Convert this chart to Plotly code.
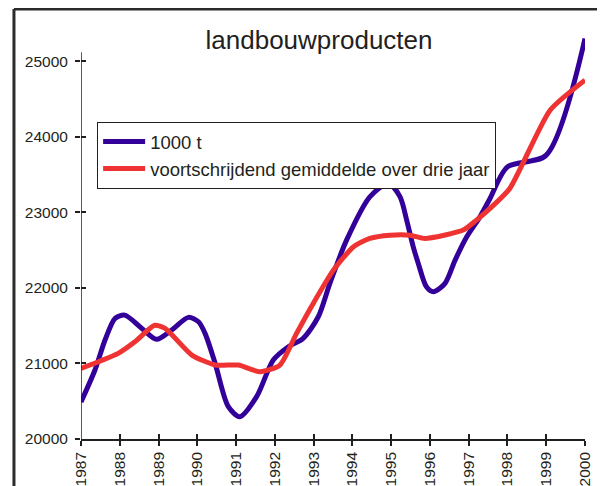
import plotly.graph_objects as go

# values
jaar_blauw = [1987.0, 1987.36, 1987.62, 1987.88, 1988.13, 1988.57, 1988.95, 1989.34, 1989.77,
              1990.03, 1990.2, 1990.46, 1990.8, 1991.1, 1991.53, 1991.96, 1992.35, 1992.73,
              1993.12, 1993.42, 1993.85, 1994.45, 1994.93, 1995.23, 1995.40, 1995.57, 1995.70,
              1995.91, 1996.09, 1996.39, 1996.65, 1996.95, 1997.29, 1997.55, 1998.0, 1999.0, 2000.0]
productie = [20490, 20913, 21310, 21597, 21640, 21464, 21319, 21442, 21610,
             21552, 21398, 21001, 20427, 20295, 20560, 21045, 21221, 21332,
             21618, 22060, 22632, 23205, 23382, 23205, 22897, 22544, 22324,
             22015, 21949, 22060, 22368, 22676, 22940, 23184, 23602, 23757, 25300]

jaar_rood = [1987.0, 1987.45, 1987.96, 1988.39, 1988.9, 1989.17, 1989.86, 1990.46, 1991.06,
             1991.62, 1992.13, 1992.56, 1992.99, 1993.51, 1994.03, 1994.45, 1994.97, 1995.49,
             1995.87, 1996.86, 1997.2, 1997.55, 1998.06, 1999.1, 2000.0]
gemiddelde = [20935, 21023, 21134, 21287, 21505, 21464, 21111, 20979, 20979,
              20890, 20979, 21398, 21795, 22235, 22544, 22655, 22698, 22698,
              22655, 22765, 22897, 23052, 23316, 24352, 24750]

jaren = list(range(1987, 2001))
jaar_labels = [str(j) for j in jaren]
y_ticks = [20000, 21000, 22000, 23000, 24000, 25000]
y_labels = [str(v) for v in y_ticks]

tekst = "#231f20"
font = "Liberation Sans, Arial, sans-serif"
x_range = [1987, 2000]
y_range = [20000, 25400]

fig = go.Figure()
fig.add_trace(go.Scatter(x=jaar_blauw, y=productie, mode="lines", name="1000 t",
                         line=dict(color="#330099", width=5, shape="spline", smoothing=0.8)))
fig.add_trace(go.Scatter(x=jaar_rood, y=gemiddelde, mode="lines",
                         name="voortschrijdend gemiddelde over drie jaar",
                         xaxis="x2", yaxis="y2",
                         line=dict(color="#ef3333", width=5, shape="spline", smoothing=0.6)))

# the page body adds 8px, so the figure is 8px smaller and shifted
fig.update_layout(
    width=597, height=478,
    margin=dict(l=73, r=20, t=23, b=47),
    paper_bgcolor="white", plot_bgcolor="white",
    font=dict(family=font, color=tekst),
    title=dict(text="landbouwproducten", x=0.521, xanchor="center", xref="container",
               y=0.933, yanchor="middle", yref="container",
               font=dict(size=26, color=tekst)),
    xaxis=dict(range=x_range, tickvals=jaren, ticktext=jaar_labels, ticks="outside",
               ticklen=5, tickwidth=1.5, tickcolor=tekst, tickangle=-90,
               tickfont=dict(size=15.5), automargin=False,
               showline=True, linecolor=tekst, linewidth=1.5, showgrid=False, zeroline=False),
    yaxis=dict(range=y_range, tickvals=y_ticks, ticktext=y_labels, ticks="outside",
               ticklen=5, tickwidth=1.5, tickcolor=tekst, tickfont=dict(size=15.5),
               ticklabelstandoff=4, automargin=False,
               showline=False, showgrid=False, zeroline=False),
    xaxis2=dict(range=x_range, tickvals=jaren, ticks="inside", ticklen=5, tickwidth=1.5,
                tickcolor=tekst, showticklabels=False, overlaying="x", anchor="y2",
                automargin=False, showline=False, showgrid=False, zeroline=False),
    yaxis2=dict(range=y_range, tickvals=y_ticks, ticks="inside", ticklen=5, tickwidth=1.5,
                tickcolor=tekst, showticklabels=False, overlaying="y", anchor="x2",
                automargin=False, showline=False, showgrid=False, zeroline=False),
    legend=dict(x=0.032, y=0.777, xanchor="left", yanchor="top",
                bgcolor="white", bordercolor=tekst, borderwidth=1, itemwidth=42,
                font=dict(size=18.5, color=tekst), tracegroupgap=0),
    showlegend=True,
)

# y-as lijn stopt net boven 25000
fig.add_shape(type="line", xref="x", yref="y", x0=1987, x1=1987, y0=20000, y1=25120,
              line=dict(color=tekst, width=1.5))
# kader links en boven
fig.add_shape(type="line", xref="paper", yref="paper", x0=-0.133, x1=-0.133, y0=-0.2, y1=1.054,
              line=dict(color="#2b2b2b", width=3))
fig.add_shape(type="line", xref="paper", yref="paper", x0=-0.133, x1=1.1, y0=1.054, y1=1.054,
              line=dict(color="#2b2b2b", width=3))

fig.write_html("out.html")
